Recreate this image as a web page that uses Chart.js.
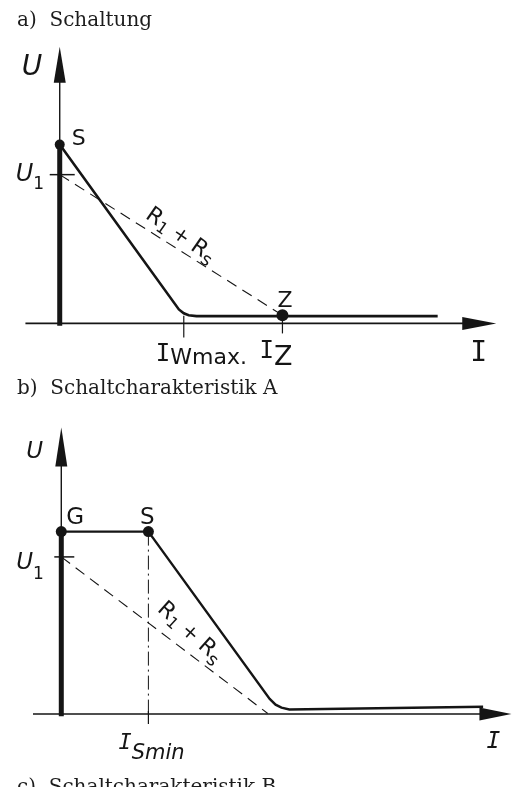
<!DOCTYPE html>
<html><head><meta charset="utf-8">
<script src="https://cdn.jsdelivr.net/npm/chart.js@4"></script>
<style>
html,body{margin:0;padding:0;background:#fff;}
body{width:518px;height:787px;position:relative;overflow:hidden;}
canvas{position:absolute;left:0;}
.cap{position:absolute;left:17px;font-family:"DejaVu Serif";font-size:20px;line-height:20px;color:#1c1c1c;white-space:pre;z-index:2;}
</style></head><body>
<canvas id="cA" width="518" height="390" style="top:0px"></canvas>
<canvas id="cB" width="518" height="397" style="top:390px"></canvas>
<div class="cap" style="top:9px">a)  Schaltung</div>
<div class="cap" style="top:377px">b)  Schaltcharakteristik A</div>
<div class="cap" style="top:776px">c)  Schaltcharakteristik B</div>
<script>
// ---------- data: diagram a) Schaltung ----------
const A_CURVE_I = [0, 5.35, 5.57, 5.79, 6.14, 10.0, 16.97];
const A_CURVE_U = [12.02, 0.94, 0.68, 0.55, 0.49, 0.49, 0.49];
const A_LOAD_I = [0, 10.0];
const A_LOAD_U = [10.0, 0.55];
const A_MARK_I = [0, 10.0];
const A_MARK_U = [12.02, 0.55];
const A_MARK_NAMES = ['S', 'Z'];
const A_U1 = 10.0;
const A_TICK_I = [5.57, 10.0];
const A_TICK_NAMES = [['I', 'Wmax.'], ['I', 'Z']];

// ---------- data: diagram b) Schaltcharakteristik A ----------
const B_CURVE_I = [0, 4.0, 9.57, 9.84, 10.11, 10.47, 19.37];
const B_CURVE_U = [11.61, 11.61, 0.96, 0.59, 0.40, 0.28, 0.46];
const B_LOAD_I = [0, 9.48];
const B_LOAD_U = [10.0, 0.03];
const B_MARK_I = [0, 4.0];
const B_MARK_U = [11.61, 11.61];
const B_MARK_NAMES = ['G', 'S'];
const B_U1 = 10.0;
const B_ISMIN = 4.0;

// ---------- layout ----------
const LA = {ox:55, oy:327.5, ux:22.8, uy:15.35, w:518, h:390, yTop:18.6, xLeft:-1.54, xRight:19.6};
const LB = {ox:57, oy:327.5, ux:22.25, uy:16.15, w:518, h:397, yTop:18.24, xLeft:-1.30, xRight:20.67};
const INK = '#151515';
const SANS = '"DejaVu Sans"', MONO = '"DejaVu Sans Mono"';

const pts = (I, U) => I.map((x, i) => ({x, y: U[i]}));

function seg(ctx, x1, y1, x2, y2, w, dash) {
  ctx.save(); ctx.strokeStyle = INK; ctx.lineWidth = w; ctx.setLineDash(dash || []);
  ctx.beginPath(); ctx.moveTo(x1, y1); ctx.lineTo(x2, y2); ctx.stroke(); ctx.restore();
}
function tri(ctx, p) {
  ctx.save(); ctx.fillStyle = INK; ctx.beginPath(); ctx.moveTo(p[0][0], p[0][1]);
  for (let i = 1; i < p.length; i++) ctx.lineTo(p[i][0], p[i][1]);
  ctx.closePath(); ctx.fill(); ctx.restore();
}
function rich(ctx, segs, x, y, center, angle, dyc) {
  ctx.save(); ctx.translate(x, y); if (angle) ctx.rotate(angle);
  let w = 0; segs.forEach(s => { ctx.font = s.f; w += ctx.measureText(s.t).width; });
  let cx = center ? -w / 2 : 0;
  ctx.fillStyle = INK; ctx.textBaseline = 'alphabetic'; ctx.textAlign = 'left';
  segs.forEach(s => { ctx.font = s.f; ctx.fillText(s.t, cx, (s.dy || 0) + (dyc || 0)); cx += ctx.measureText(s.t).width; });
  ctx.restore();
}
function drawAxes(chart, L, arrowX, arrowY) {
  const ctx = chart.ctx, X = v => chart.scales.x.getPixelForValue(v), Y = v => chart.scales.y.getPixelForValue(v);
  const x0 = X(0), y0 = Y(0), xt = X(L.xRight), yt = Y(L.yTop);
  seg(ctx, X(L.xLeft), y0, xt - arrowX + 4, y0, 1.6);
  tri(ctx, [[xt, y0], [xt - arrowX, y0 - 6.5], [xt - arrowX, y0 + 6.5]]);
  seg(ctx, x0, yt + arrowY - 4, x0, y0, 1.4);
  tri(ctx, [[x0, yt], [x0 - 6, yt + arrowY], [x0 + 6, yt + arrowY]]);
}

const rLabel = [
  {t:'R', f:`22px ${SANS}`}, {t:'1', f:`16px ${SANS}`, dy:4},
  {t:' + ', f:`20px ${SANS}`}, {t:'R', f:`22px ${SANS}`}, {t:'s', f:`18px ${SANS}`, dy:5}
];

const plugA = {
  id: 'schemA',
  beforeDatasetsDraw(chart) { drawAxes(chart, LA, 34, 36); },
  afterDatasetsDraw(chart) {
    const ctx = chart.ctx, X = v => chart.scales.x.getPixelForValue(v), Y = v => chart.scales.y.getPixelForValue(v);
    const x0 = X(0), y0 = Y(0);
    rich(ctx, [{t:'U', f:`italic 28px ${SANS}`}], x0 - 38, Y(LA.yTop) + 28);
    rich(ctx, [{t:A_MARK_NAMES[0], f:`22px ${SANS}`}], X(A_MARK_I[0]) + 12, Y(A_MARK_U[0]));
    rich(ctx, [{t:A_MARK_NAMES[1], f:`22px ${SANS}`}], X(A_MARK_I[1]) - 5, Y(A_MARK_U[1]) - 8);
    seg(ctx, x0 - 10, Y(A_U1), x0 + 15, Y(A_U1), 1.5);
    rich(ctx, [{t:'U', f:`italic 24px ${SANS}`}, {t:'1', f:`17px ${SANS}`, dy:8}], x0 - 44, Y(A_U1) + 6);
    const t = 0.548, li = A_LOAD_I[0] + t * (A_LOAD_I[1] - A_LOAD_I[0]), lu = A_LOAD_U[0] + t * (A_LOAD_U[1] - A_LOAD_U[0]);
    rich(ctx, rLabel, X(li), Y(lu) - 18, true, 35 * Math.PI / 180, 8);
    seg(ctx, X(A_TICK_I[0]), Y(0.52), X(A_TICK_I[0]), y0 + 14, 1.2);
    rich(ctx, [{t:A_TICK_NAMES[0][0], f:`24px ${MONO}`}, {t:A_TICK_NAMES[0][1], f:`22px ${SANS}`, dy:3}], X(A_TICK_I[0]) - 28, y0 + 37.5);
    seg(ctx, X(A_TICK_I[1]), y0 - 5, X(A_TICK_I[1]), y0 + 10, 1.2);
    rich(ctx, [{t:A_TICK_NAMES[1][0], f:`24px ${MONO}`}, {t:A_TICK_NAMES[1][1], f:`27px ${SANS}`, dy:7}], X(A_TICK_I[1]) - 23, y0 + 35);
    rich(ctx, [{t:'I', f:`28px ${MONO}`}], X(LA.xRight) - 26, y0 + 38);
  }
};

const plugB = {
  id: 'schemB',
  beforeDatasetsDraw(chart) { drawAxes(chart, LB, 32, 39); },
  afterDatasetsDraw(chart) {
    const ctx = chart.ctx, X = v => chart.scales.x.getPixelForValue(v), Y = v => chart.scales.y.getPixelForValue(v);
    const x0 = X(0), y0 = Y(0);
    rich(ctx, [{t:'U', f:`italic 23px ${SANS}`}], x0 - 35, Y(LB.yTop) + 30);
    rich(ctx, [{t:B_MARK_NAMES[0], f:`23px ${SANS}`}], X(B_MARK_I[0]) + 5, Y(B_MARK_U[0]) - 8);
    rich(ctx, [{t:B_MARK_NAMES[1], f:`23px ${SANS}`}], X(B_MARK_I[1]) - 1, Y(B_MARK_U[1]) - 8, true);
    seg(ctx, x0 - 7, Y(B_U1), x0 + 13, Y(B_U1), 1.5);
    rich(ctx, [{t:'U', f:`italic 23px ${SANS}`}, {t:'1', f:`17px ${SANS}`, dy:10}], x0 - 45, Y(B_U1) + 12);
    const t = 0.63, li = B_LOAD_I[0] + t * (B_LOAD_I[1] - B_LOAD_I[0]), lu = B_LOAD_U[0] + t * (B_LOAD_U[1] - B_LOAD_U[0]);
    rich(ctx, rLabel, X(li), Y(lu) - 24.6, true, 42 * Math.PI / 180, 8);
    seg(ctx, X(B_ISMIN), y0 - 3, X(B_ISMIN), y0 + 10, 1.2);
    rich(ctx, [{t:'I', f:`italic 22px ${MONO}`}, {t:'Smin', f:`italic 21px ${SANS}`, dy:10}], X(B_ISMIN) - 30, y0 + 35.5);
    rich(ctx, [{t:'I', f:`italic 23px ${MONO}`}], X(LB.xRight) - 25, y0 + 34.5);
  }
};

function scales(L) {
  return {
    x: {type:'linear', display:false, min: -L.ox / L.ux, max: (L.w - L.ox) / L.ux},
    y: {type:'linear', display:false, min: -(L.h - L.oy) / L.uy, max: L.oy / L.uy}
  };
}
const common = {
  responsive:false, animation:false, devicePixelRatio:1,
  layout:{padding:0},
  plugins:{legend:{display:false}, tooltip:{enabled:false}},
  elements:{line:{tension:0}}
};

new Chart(document.getElementById('cA'), {
  type:'scatter',
  data:{datasets:[
    {data:[{x:0, y:-0.15}, {x:0, y:A_MARK_U[0]}], showLine:true, borderColor:INK, borderWidth:5, pointRadius:0},
    {data:pts(A_LOAD_I, A_LOAD_U), showLine:true, borderColor:INK, borderWidth:1.1, borderDash:[11,7], pointRadius:0},
    {data:pts(A_CURVE_I, A_CURVE_U), showLine:true, borderColor:INK, borderWidth:2.6, pointRadius:0},
    {data:pts(A_MARK_I, A_MARK_U), showLine:false, pointRadius:[5,6], backgroundColor:INK, borderColor:INK, borderWidth:0}
  ]},
  options:Object.assign({}, common, {scales:scales(LA)}),
  plugins:[plugA]
});

new Chart(document.getElementById('cB'), {
  type:'scatter',
  data:{datasets:[
    {data:[{x:0, y:-0.15}, {x:0, y:B_MARK_U[0]}], showLine:true, borderColor:INK, borderWidth:5, pointRadius:0},
    {data:pts(B_LOAD_I, B_LOAD_U), showLine:true, borderColor:INK, borderWidth:1.1, borderDash:[11,7], pointRadius:0},
    {data:[{x:B_ISMIN, y:B_MARK_U[1]}, {x:B_ISMIN, y:0}], showLine:true, borderColor:INK, borderWidth:1, borderDash:[14,4,2,4], pointRadius:0},
    {data:pts(B_CURVE_I, B_CURVE_U), showLine:true, borderColor:INK, borderWidth:2.4, pointRadius:0},
    {data:pts(B_MARK_I, B_MARK_U), showLine:false, pointRadius:5.5, backgroundColor:INK, borderColor:INK, borderWidth:0}
  ]},
  options:Object.assign({}, common, {scales:scales(LB)}),
  plugins:[plugB]
});
</script>
</body></html>
